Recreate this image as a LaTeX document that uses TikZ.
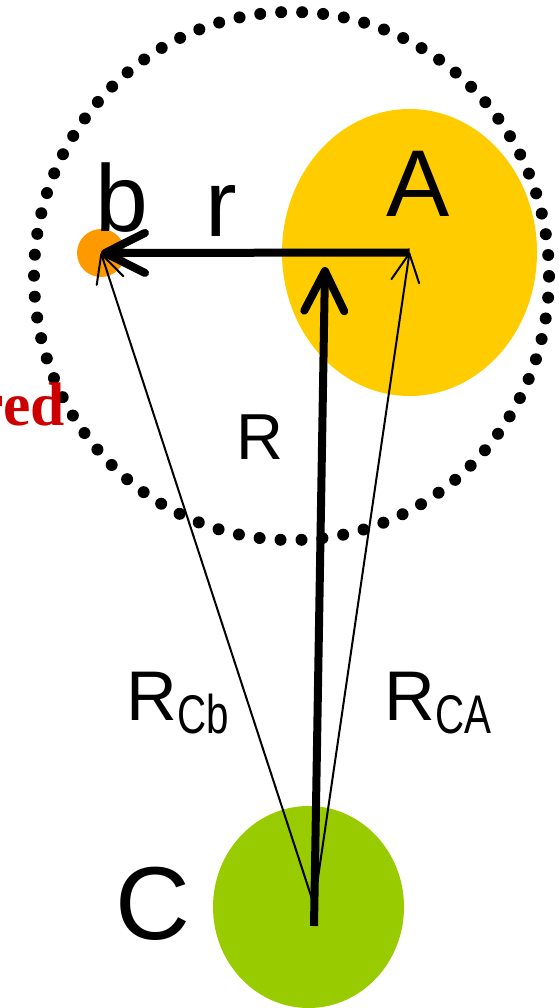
\documentclass[tikz,border=0pt]{standalone}
\usepackage{fontspec}
\setmainfont{Liberation Sans}
\newfontfamily\timesfont{Liberation Serif}
\usetikzlibrary{arrows.meta,shapes.geometric}
\definecolor{gold}{HTML}{FFCC00}
\definecolor{tangerine}{HTML}{FF9900}
\definecolor{lime}{HTML}{99CC00}
\definecolor{crimson}{HTML}{CC0000}
\newcommand{\subtag}[1]{\raisebox{-0.26cm}{\scalebox{0.74}[1]{\fontsize{31}{31}\selectfont #1}}}
\tikzset{
  body/.style={ellipse,draw=none,inner sep=0pt},
  zone/.style={ellipse,draw=black,line width=0.24cm,line cap=round,
               dash pattern=on 0pt off 0.42cm,inner sep=0pt},
  vec/.style={-{Straight Barb[length=0.8cm,width=0.8cm,round]},line width=0.16cm},
  thinvec/.style={-{Straight Barb[length=0.56cm,width=0.56cm,round]},line width=0.04cm},
  lab/.style={font=\fontsize{40}{40}\selectfont,inner sep=0pt,anchor=base},
  biglab/.style={lab,font=\fontsize{54}{54}\selectfont},
}

\begin{document}
\begin{tikzpicture}[x=1cm,y=1cm]
\useasboundingbox (0,0) rectangle (11.18,-20.16);
\node[zone,minimum width=10.3cm,minimum height=10.56cm] (zone) at (5.83,-5.52) {};
\node[body,fill=gold,minimum width=5.1cm,minimum height=5.74cm] (A) at (8.19,-5.05) {};
\node[body,fill=tangerine,minimum width=0.96cm,minimum height=0.96cm] (b) at (2.02,-5.06) {};
\node[body,fill=lime,minimum width=3.82cm,minimum height=4.04cm] (C) at (6.17,-18.14) {};
\coordinate (src) at (6.28,-18.1);
\coordinate (foot) at (6.28,-18.52);
\coordinate (head) at (6.5,-5.34);

\draw[vec] (A.center) -- (b.center);
\draw[thinvec] (src) -- (b.center);
\draw[thinvec] (src) -- (A.center);
\draw[vec] (foot) -- (head);

\node[biglab] (lb) at (2.44,-4.64) {b};
\node[biglab] (lr) at (4.43,-4.74) {r};
\node[biglab] (lA) at (8.36,-4.34) {A};
\node[biglab,font=\fontsize{59}{59}\selectfont] (lC) at (3.05,-18.78) {C};
\node[lab,font=\fontsize{37}{37}\selectfont] (lR) at (5.19,-9.18) {R};
\node[lab,anchor=base west] (lRCb) at (2.52,-14.4) {R\subtag{Cb}};
\node[lab,anchor=base west] (lRCA) at (7.68,-14.4) {R\subtag{CA}};
\node[lab,anchor=base east,font=\timesfont\bfseries\fontsize{35}{35}\selectfont,
      text=crimson] (cut) at (1.3,-8.5) {red};
\end{tikzpicture}
\end{document}
